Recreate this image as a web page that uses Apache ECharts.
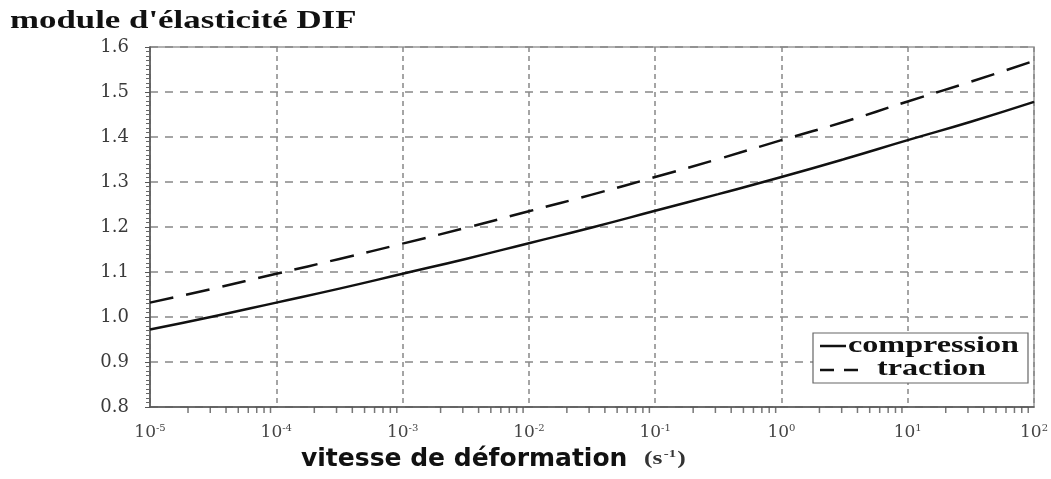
<!DOCTYPE html>
<html>
<head>
<meta charset="utf-8">
<script src="https://cdn.jsdelivr.net/npm/echarts@6/dist/echarts.min.js"></script>
<style>html,body{margin:0;padding:0;background:#fff}#c{width:1051px;height:479px}</style>
</head>
<body>
<div id="c"></div>
<script>
// Strain rates (s^-1) at which the curves were read
const strainRates = [1e-5, 3.16e-5, 1e-4, 3.16e-4, 1e-3, 3.16e-3, 1e-2, 3.16e-2, 1e-1, 3.16e-1, 1, 3.16, 10, 31.6, 100];
// DIF of elastic modulus, compression (solid)
const compression = [0.972, 1.001, 1.032, 1.063, 1.096, 1.129, 1.164, 1.199, 1.236, 1.273, 1.311, 1.351, 1.393, 1.434, 1.478];
// DIF of elastic modulus, traction (dashed)
const traction = [1.032, 1.063, 1.096, 1.129, 1.163, 1.198, 1.235, 1.272, 1.311, 1.351, 1.393, 1.434, 1.479, 1.523, 1.569];
// x tick exponents
const xTickExponents = ['-5', '-4', '-3', '-2', '-1', '0', '1', '2'];
// minor tick multipliers within a decade
const minorMultipliers = [2, 3, 4, 5, 6, 7, 8, 9];
const seriesNames = ['compression', 'traction'];

const minorTicks = [];
for (let d = -5; d < 2; d++) {
  for (const m of minorMultipliers) minorTicks.push([m * Math.pow(10, d), 0.8]);
}

const chart = echarts.init(document.getElementById('c'));
const serif = '"Liberation Serif", serif';
const SX = 1.34; // horizontal stretch of the reference lettering

chart.setOption({
  animation: false,
  backgroundColor: '#fff',
  grid: { left: 150, right: 17, top: 47, bottom: 72, show: true, borderColor: '#999', borderWidth: 1.5 },
  xAxis: {
    type: 'log', logBase: 10, min: 1e-5, max: 100,
    axisLine: { lineStyle: { color: '#555', width: 1.5 } },
    axisTick: { show: false },
    splitLine: { show: true, lineStyle: { color: '#888', type: [5, 4], width: 1.5 } },
    axisLabel: {
      margin: 16,
      formatter: function (v) {
        const e = Math.round(Math.log10(v));
        return '{b|10}{s|' + xTickExponents[e + 5] + '}';
      },
      rich: {
        b: { fontFamily: '"DejaVu Serif", serif', fontSize: 17, color: '#444' },
        s: { fontFamily: '"DejaVu Serif", serif', fontSize: 10, color: '#444', verticalAlign: 'top', padding: [0, 0, 10, 0] }
      }
    }
  },
  yAxis: {
    type: 'value', min: 0.8, max: 1.6, interval: 0.1,
    axisLine: { show: true, lineStyle: { color: '#555', width: 1.5 } },
    axisTick: { show: true, inside: false, length: 5, lineStyle: { color: '#555' } },
    minorTick: { show: true, splitNumber: 10, length: 4, lineStyle: { color: '#666' } },
    splitLine: { show: true, lineStyle: { color: '#888', type: [8, 7], width: 1.5 } },
    axisLabel: {
      margin: 21, fontFamily: '"DejaVu Serif", serif', fontSize: 18, color: '#3a3a3a',
      formatter: function (v) { return v.toFixed(1); }
    }
  },
  graphic: [
    { type: 'text', x: 10, y: 8, scaleX: SX, z: 10,
      style: { text: "module d'élasticité DIF", font: 'bold 26px "Liberation Serif", serif', fill: '#111', textVerticalAlign: 'top' } },
    { type: 'text', x: 301, y: 447, z: 10,
      style: { text: 'vitesse de déformation', font: 'bold 25px "DejaVu Sans", sans-serif', fill: '#111', textVerticalAlign: 'top' } },
    { type: 'text', x: 644, y: 449, scaleX: SX, z: 10,
      style: { text: '(s{s|-1})', font: 'bold 19px "Liberation Serif", serif', fill: '#333', textVerticalAlign: 'top',
        rich: { s: { fontSize: 11, fontWeight: 'bold', fontFamily: serif, fill: '#333', verticalAlign: 'top', padding: [0, 1, 9, 1] } } } },
    // legend box
    { type: 'rect', z: 10, shape: { x: 813, y: 333, width: 215, height: 50 },
      style: { fill: '#fff', stroke: '#666', lineWidth: 1.2 } },
    { type: 'line', z: 11, shape: { x1: 820, y1: 346, x2: 846, y2: 346 }, style: { stroke: '#111', lineWidth: 2.5 } },
    { type: 'line', z: 11, shape: { x1: 820, y1: 370, x2: 861, y2: 370 }, style: { stroke: '#111', lineWidth: 2.5, lineDash: [14, 10] } },
    { type: 'text', x: 848, y: 346, scaleX: SX, z: 11,
      style: { text: seriesNames[0], font: 'bold 24px "Liberation Serif", serif', fill: '#111', textVerticalAlign: 'middle' } },
    { type: 'text', x: 877, y: 369, scaleX: SX, z: 11,
      style: { text: seriesNames[1], font: 'bold 24px "Liberation Serif", serif', fill: '#111', textVerticalAlign: 'middle' } }
  ],
  series: [
    {
      name: seriesNames[0], type: 'line', symbol: 'none', smooth: true,
      data: strainRates.map((x, i) => [x, compression[i]]),
      lineStyle: { color: '#111', width: 2.5, type: 'solid' }, z: 5
    },
    {
      name: seriesNames[1], type: 'line', symbol: 'none', smooth: true,
      data: strainRates.map((x, i) => [x, traction[i]]),
      lineStyle: { color: '#111', width: 2.5, type: [24, 13] }, z: 5
    },
    {
      name: 'minor', type: 'scatter', data: minorTicks, symbol: 'rect', symbolSize: [1.5, 6],
      symbolOffset: [0, 3], itemStyle: { color: '#555' }, silent: true, clip: false, z: 6
    }
  ]
});
</script>
</body>
</html>
